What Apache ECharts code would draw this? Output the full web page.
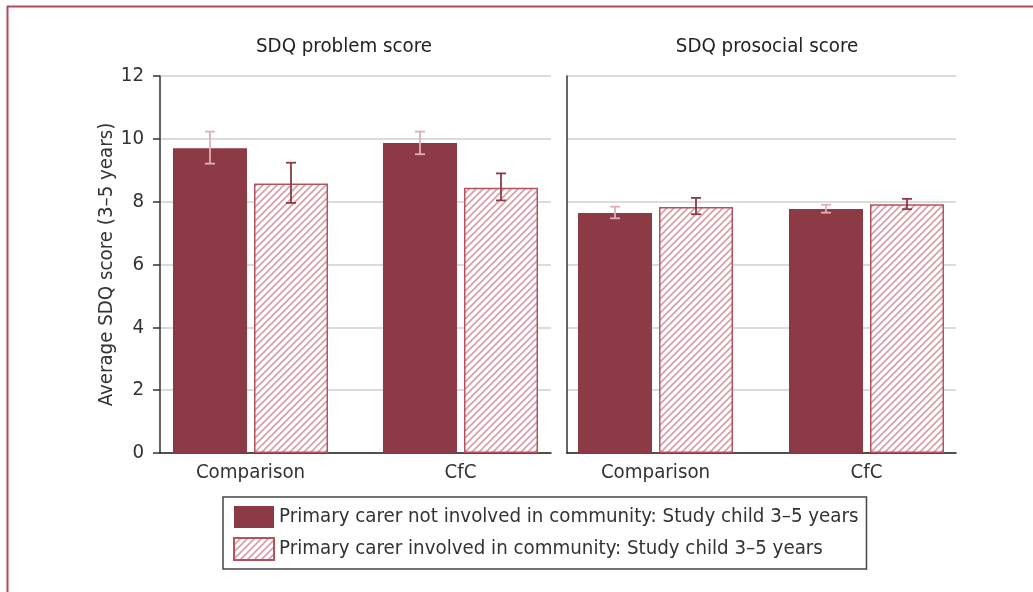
<!DOCTYPE html>
<html>
<head>
<meta charset="utf-8">
<script src="https://cdn.jsdelivr.net/npm/echarts@6/dist/echarts.min.js"></script>
<style>
  html, body { margin: 0; padding: 0; background: #fff; }
  #chart { width: 1033px; height: 592px; }
</style>
</head>
<body>
<div id="chart"></div>
<script>
  // data
  const categories = ['Comparison', 'CfC'];
  const yTicks = [0, 2, 4, 6, 8, 10, 12];
  const seriesNames = [
    'Primary carer not involved in community: Study child 3–5 years',
    'Primary carer involved in community: Study child 3–5 years'
  ];
  const problemNotInvolved = [9.70, 9.87];
  const problemNotInvolvedErr = [[9.21, 10.23], [9.51, 10.23]];
  const problemInvolved = [8.58, 8.44];
  const problemInvolvedErr = [[7.96, 9.24], [8.04, 8.90]];
  const prosocialNotInvolved = [7.64, 7.77];
  const prosocialNotInvolvedErr = [[7.47, 7.84], [7.65, 7.90]];
  const prosocialInvolved = [7.83, 7.92];
  const prosocialInvolvedErr = [[7.60, 8.12], [7.76, 8.09]];

  const FONT = "'Liberation Sans Narrow', 'DejaVu Sans Condensed', sans-serif";
  const FS = 20.3;
  const DARK = '#8c3a45';

  // diagonal hatch pattern
  function hatch() {
    const s = 7;
    const c = document.createElement('canvas');
    c.width = s; c.height = s;
    const g = c.getContext('2d');
    g.fillStyle = '#fff';
    g.fillRect(0, 0, s, s);
    g.strokeStyle = '#d89ea6';
    g.lineWidth = 1.6;
    g.beginPath();
    g.moveTo(-1, s + 1); g.lineTo(s + 1, -1);
    g.moveTo(-1, 1); g.lineTo(1, -1);
    g.moveTo(s - 1, s + 1); g.lineTo(s + 1, s - 1);
    g.stroke();
    return c;
  }
  const hatchFill = { image: hatch(), repeat: 'repeat' };

  const chart = echarts.init(document.getElementById('chart'));

  const TOP = 76, BOTTOM = 139;

  function frameY(idx, showLabels) {
    return {
      type: 'value', gridIndex: idx, min: 0, max: 12, interval: 2,
      axisLine: { show: true, lineStyle: { color: '#333', width: 1.5 } },
      axisTick: { show: showLabels, length: 7, lineStyle: { color: '#333', width: 1.5 } },
      axisLabel: {
        show: showLabels, fontSize: FS, color: '#333', fontFamily: FONT, margin: 16,
        formatter: v => yTicks.indexOf(v) >= 0 ? String(v) : ''
      },
      splitLine: { show: true, lineStyle: { color: '#cfcfcf', width: 1.5 } },
      name: showLabels ? 'Average SDQ score (3–5 years)' : '',
      nameLocation: 'middle', nameGap: 40,
      nameTextStyle: { fontSize: FS, color: '#333', fontFamily: FONT }
    };
  }
  function frameX(idx) {
    return {
      type: 'value', gridIndex: idx, min: 0, max: 1,
      axisLine: { show: true, onZero: false, lineStyle: { color: '#222', width: 1.5 } },
      axisTick: { show: false }, axisLabel: { show: false }, splitLine: { show: false }
    };
  }
  function barX(idx) {
    return {
      type: 'category', gridIndex: idx, data: categories,
      axisLine: { show: false }, axisTick: { show: false },
      axisLabel: { fontSize: FS, color: '#333', fontFamily: FONT, margin: 10 }
    };
  }
  function barY(idx) {
    return { type: 'value', gridIndex: idx, min: 0, max: 12, show: false, splitLine: { show: false } };
  }

  function bars(name, values, idx, hatched) {
    return {
      type: 'bar', name: name, xAxisIndex: idx, yAxisIndex: idx,
      data: values, barWidth: 74, barGap: '9.5%',
      itemStyle: hatched
        ? { color: hatchFill, borderColor: '#b5525f', borderWidth: 1.5 }
        : { color: DARK },
      z: 2
    };
  }

  function errors(ranges, idx, offset, color) {
    return {
      type: 'custom', xAxisIndex: idx, yAxisIndex: idx, z: 5, silent: true,
      data: ranges.map((r, i) => [i, r[0], r[1]]),
      renderItem: (params, api) => {
        const lo = api.coord([api.value(0), api.value(1)]);
        const hi = api.coord([api.value(0), api.value(2)]);
        const x = lo[0] + offset;
        const cap = 5;
        const style = { stroke: color, lineWidth: 1.8 };
        return {
          type: 'group',
          children: [
            { type: 'line', shape: { x1: x, y1: lo[1], x2: x, y2: hi[1] }, style },
            { type: 'line', shape: { x1: x - cap, y1: lo[1], x2: x + cap, y2: lo[1] }, style },
            { type: 'line', shape: { x1: x - cap, y1: hi[1], x2: x + cap, y2: hi[1] }, style }
          ]
        };
      }
    };
  }

  const LIGHT_ERR = '#e0b0b6';
  const DARK_ERR = '#8c3a45';

  chart.setOption({
    animation: false,
    textStyle: { fontFamily: FONT },
    grid: [
      { left: 160, right: 1033 - 551, top: TOP, bottom: BOTTOM },
      { left: 145.5, right: 1033 - 565.5, top: TOP, bottom: BOTTOM },
      { left: 567, right: 1033 - 956, top: TOP, bottom: BOTTOM },
      { left: 550, right: 1033 - 972, top: TOP, bottom: BOTTOM }
    ],
    xAxis: [frameX(0), barX(1), frameX(2), barX(3)],
    yAxis: [frameY(0, true), barY(1), frameY(2, false), barY(3)],
    legend: {
      orient: 'vertical', left: 223, top: 497,
      padding: [9, 8, 8, 10], itemGap: 9, itemWidth: 40, itemHeight: 22,
      borderColor: '#444', borderWidth: 1.5,
      textStyle: { fontSize: FS, color: '#333', fontFamily: FONT },
      data: seriesNames.map(n => ({ name: n, icon: 'rect' }))
    },
    graphic: [
      { type: 'line', shape: { x1: 7, y1: 6.5, x2: 1033, y2: 6.5 }, style: { stroke: '#b04a58', lineWidth: 2 } },
      { type: 'line', shape: { x1: 7.5, y1: 6, x2: 7.5, y2: 592 }, style: { stroke: '#b04a58', lineWidth: 2 } },
      { type: 'text', x: 344, y: 47, style: { text: 'SDQ problem score', fontSize: FS, fill: '#222', fontFamily: FONT, textAlign: 'center', textVerticalAlign: 'middle' } },
      { type: 'text', x: 767, y: 47, style: { text: 'SDQ prosocial score', fontSize: FS, fill: '#222', fontFamily: FONT, textAlign: 'center', textVerticalAlign: 'middle' } }
    ],
    series: [
      bars(seriesNames[0], problemNotInvolved, 1, false),
      bars(seriesNames[1], problemInvolved, 1, true),
      bars(seriesNames[0], prosocialNotInvolved, 3, false),
      bars(seriesNames[1], prosocialInvolved, 3, true),
      errors(problemNotInvolvedErr, 1, -40.5, LIGHT_ERR),
      errors(problemInvolvedErr, 1, 40.5, DARK_ERR),
      errors(prosocialNotInvolvedErr, 3, -40.5, LIGHT_ERR),
      errors(prosocialInvolvedErr, 3, 40.5, DARK_ERR)
    ]
  });
</script>
</body>
</html>
